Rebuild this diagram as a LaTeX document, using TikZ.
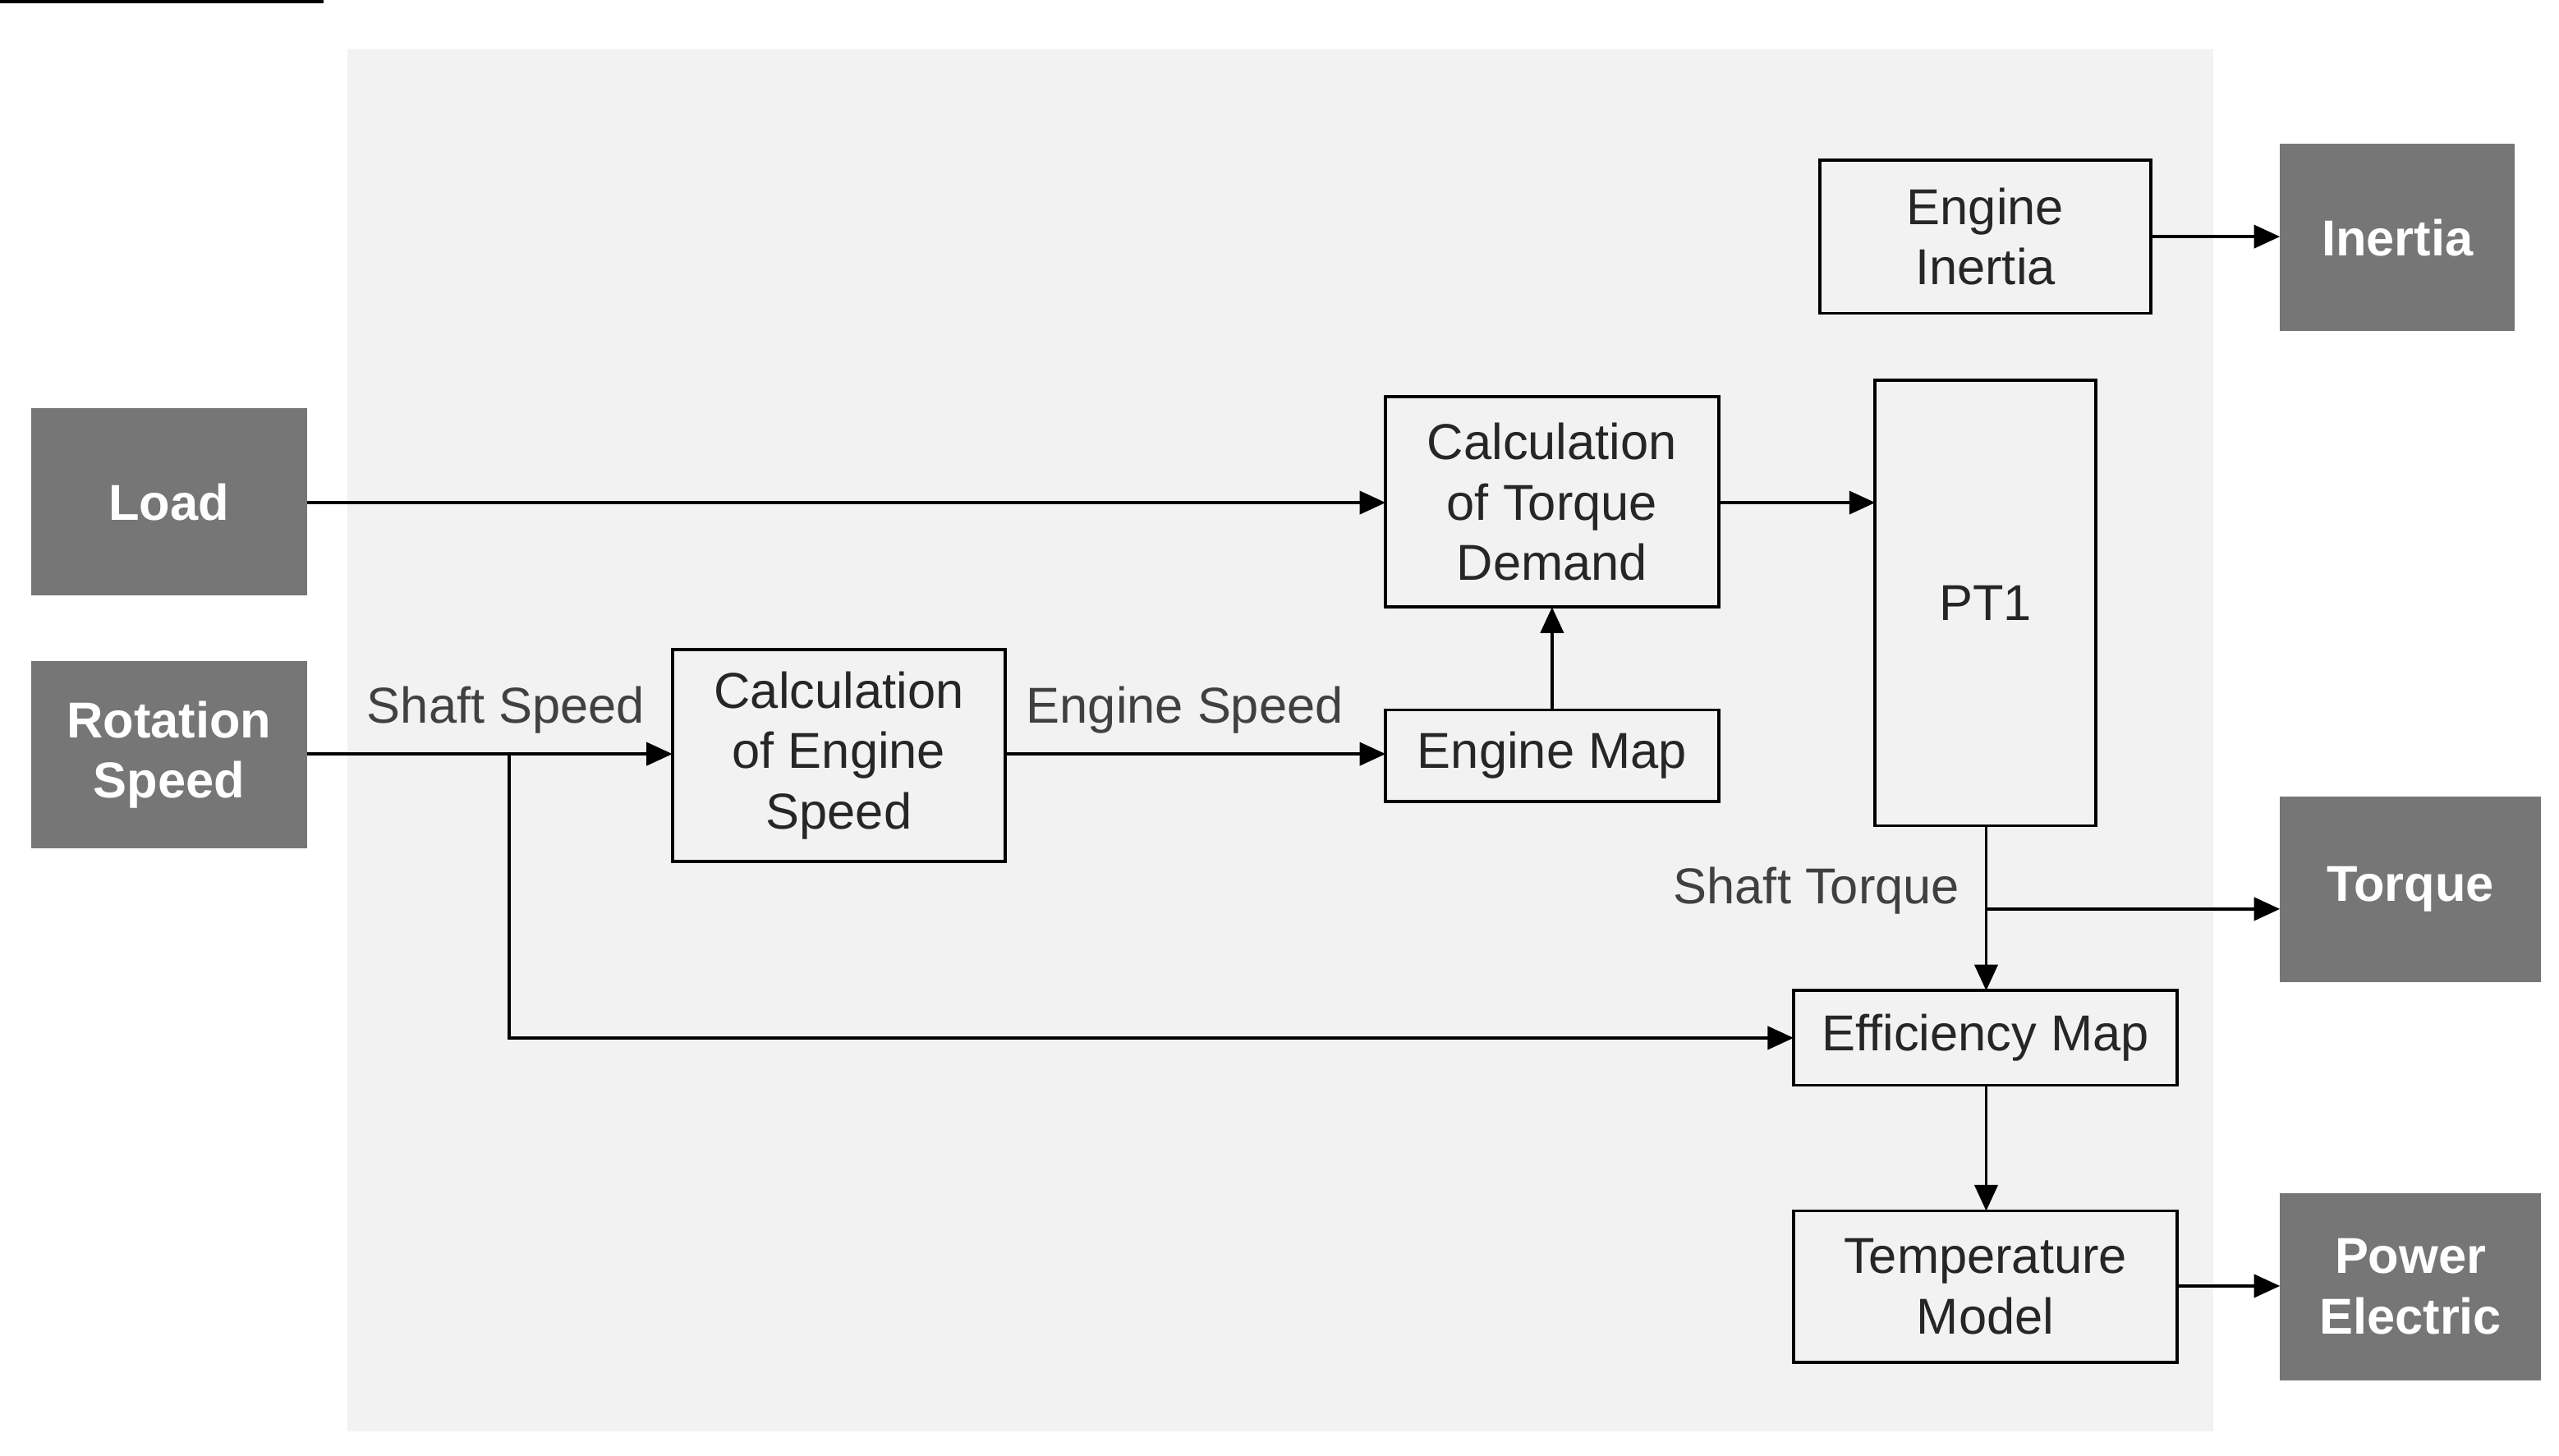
\documentclass[tikz,border=0pt]{standalone}
\usepackage{fontspec}
\setmainfont{Liberation Sans}
\usetikzlibrary{arrows.meta}
\definecolor{bg}{HTML}{F2F2F2}
\definecolor{dk}{HTML}{767676}
\definecolor{lbl}{HTML}{404040}
\begin{document}
\begin{tikzpicture}[x=0.0199cm,y=-0.0199cm,
  ext/.style={fill=dk,text=white,font=\fontsize{17.5}{21}\selectfont\bfseries,align=center,inner sep=0pt},
  blk/.style={draw=black,line width=1.1pt,font=\fontsize{17.5}{21}\selectfont,align=center,inner sep=0pt,text=black!85},
  arr/.style={line width=1.1pt,-{Triangle[length=9pt,width=8pt]}},
  lab/.style={text=lbl,font=\fontsize{17.5}{21}\selectfont}]
\useasboundingbox (0,0) rectangle (1568,892);
\fill[white] (0,0) rectangle (1568,892);
\fill[bg] (213,30) rectangle (1356,877);
% external boxes
\node[ext,minimum width=169\pgflinewidth] at (0,0) {}; 
\path[fill=dk] (19,250) rectangle (188,365) node[midway,ext] (load) {Load};
\path[fill=dk] (19,405) rectangle (188,520) node[midway,ext] (rot) {Rotation\\Speed};
\path[fill=dk] (1397,88) rectangle (1541,203) node[midway,ext] (inertia) {Inertia};
\path[fill=dk] (1397,488) rectangle (1557,602) node[midway,ext] (torque) {Torque};
\path[fill=dk] (1397,731) rectangle (1557,846) node[midway,ext] (power) {Power\\Electric};
\coordinate (loadE) at (188,308);
\coordinate (rotE) at (188,462);
\coordinate (inertiaW) at (1397,145);
\coordinate (torqueW) at (1397,557);
\coordinate (powerW) at (1397,788);
% blocks
\node[blk,minimum width=203\pgflinewidth] at (0,0) {};
\path[draw,line width=1.1pt] (1115,98) rectangle (1318,192) node[midway,blk,draw=none] (ei) {Engine\\Inertia};
\path[draw,line width=1.1pt] (849,243) rectangle (1053,372) node[midway,blk,draw=none] (ctd) {Calculation\\of Torque\\Demand};
\path[draw,line width=1.1pt] (1149,233) rectangle (1284,506) node[midway,blk,draw=none] (pt1) {PT1};
\path[draw,line width=1.1pt] (412,398) rectangle (616,528) node[midway,blk,draw=none] (ces) {Calculation\\of Engine\\Speed};
\path[draw,line width=1.1pt] (849,435) rectangle (1053,491) node[midway,blk,draw=none] (em) {Engine Map};
\path[draw,line width=1.1pt] (1099,607) rectangle (1334,665) node[midway,blk,draw=none] (eff) {Efficiency Map};
\path[draw,line width=1.1pt] (1099,742) rectangle (1334,835) node[midway,blk,draw=none] (temp) {Temperature\\Model};
% anchors
\coordinate (eiE) at (1318,145);
\coordinate (ctdW) at (849,308); \coordinate (ctdE) at (1053,308); \coordinate (ctdS) at (951,372);
\coordinate (pt1W) at (1149,308); \coordinate (pt1S) at (1217,506);
\coordinate (cesW) at (412,462); \coordinate (cesE) at (616,462);
\coordinate (emW) at (849,462); \coordinate (emN) at (951,435);
\coordinate (effN) at (1217,607); \coordinate (effW) at (1099,636); \coordinate (effS) at (1217,665);
\coordinate (tempN) at (1217,742); \coordinate (tempE) at (1334,788);
\coordinate (br1) at (312,462); \coordinate (br2) at (1217,557);
% connectors
\draw[arr] (eiE) -- (inertiaW);
\draw[arr] (loadE) -- (ctdW);
\draw[arr] (ctdE) -- (pt1W);
\draw[arr] (emN) -- (ctdS);
\draw[arr] (rotE) -- (cesW);
\draw[arr] (cesE) -- (emW);
\draw[arr] (br1) |- (effW);
\draw[arr] (pt1S) -- (effN);
\draw[arr] (br2) -- (torqueW);
\draw[arr] (effS) -- (tempN);
\draw[arr] (tempE) -- (powerW);
\node[lab] (l1) at (310,435) {Shaft Speed};
\node[lab] (l2) at (726,435) {Engine Speed};
\node[lab] (l3) at (1113,546) {Shaft Torque};
\end{tikzpicture}
\end{document}
